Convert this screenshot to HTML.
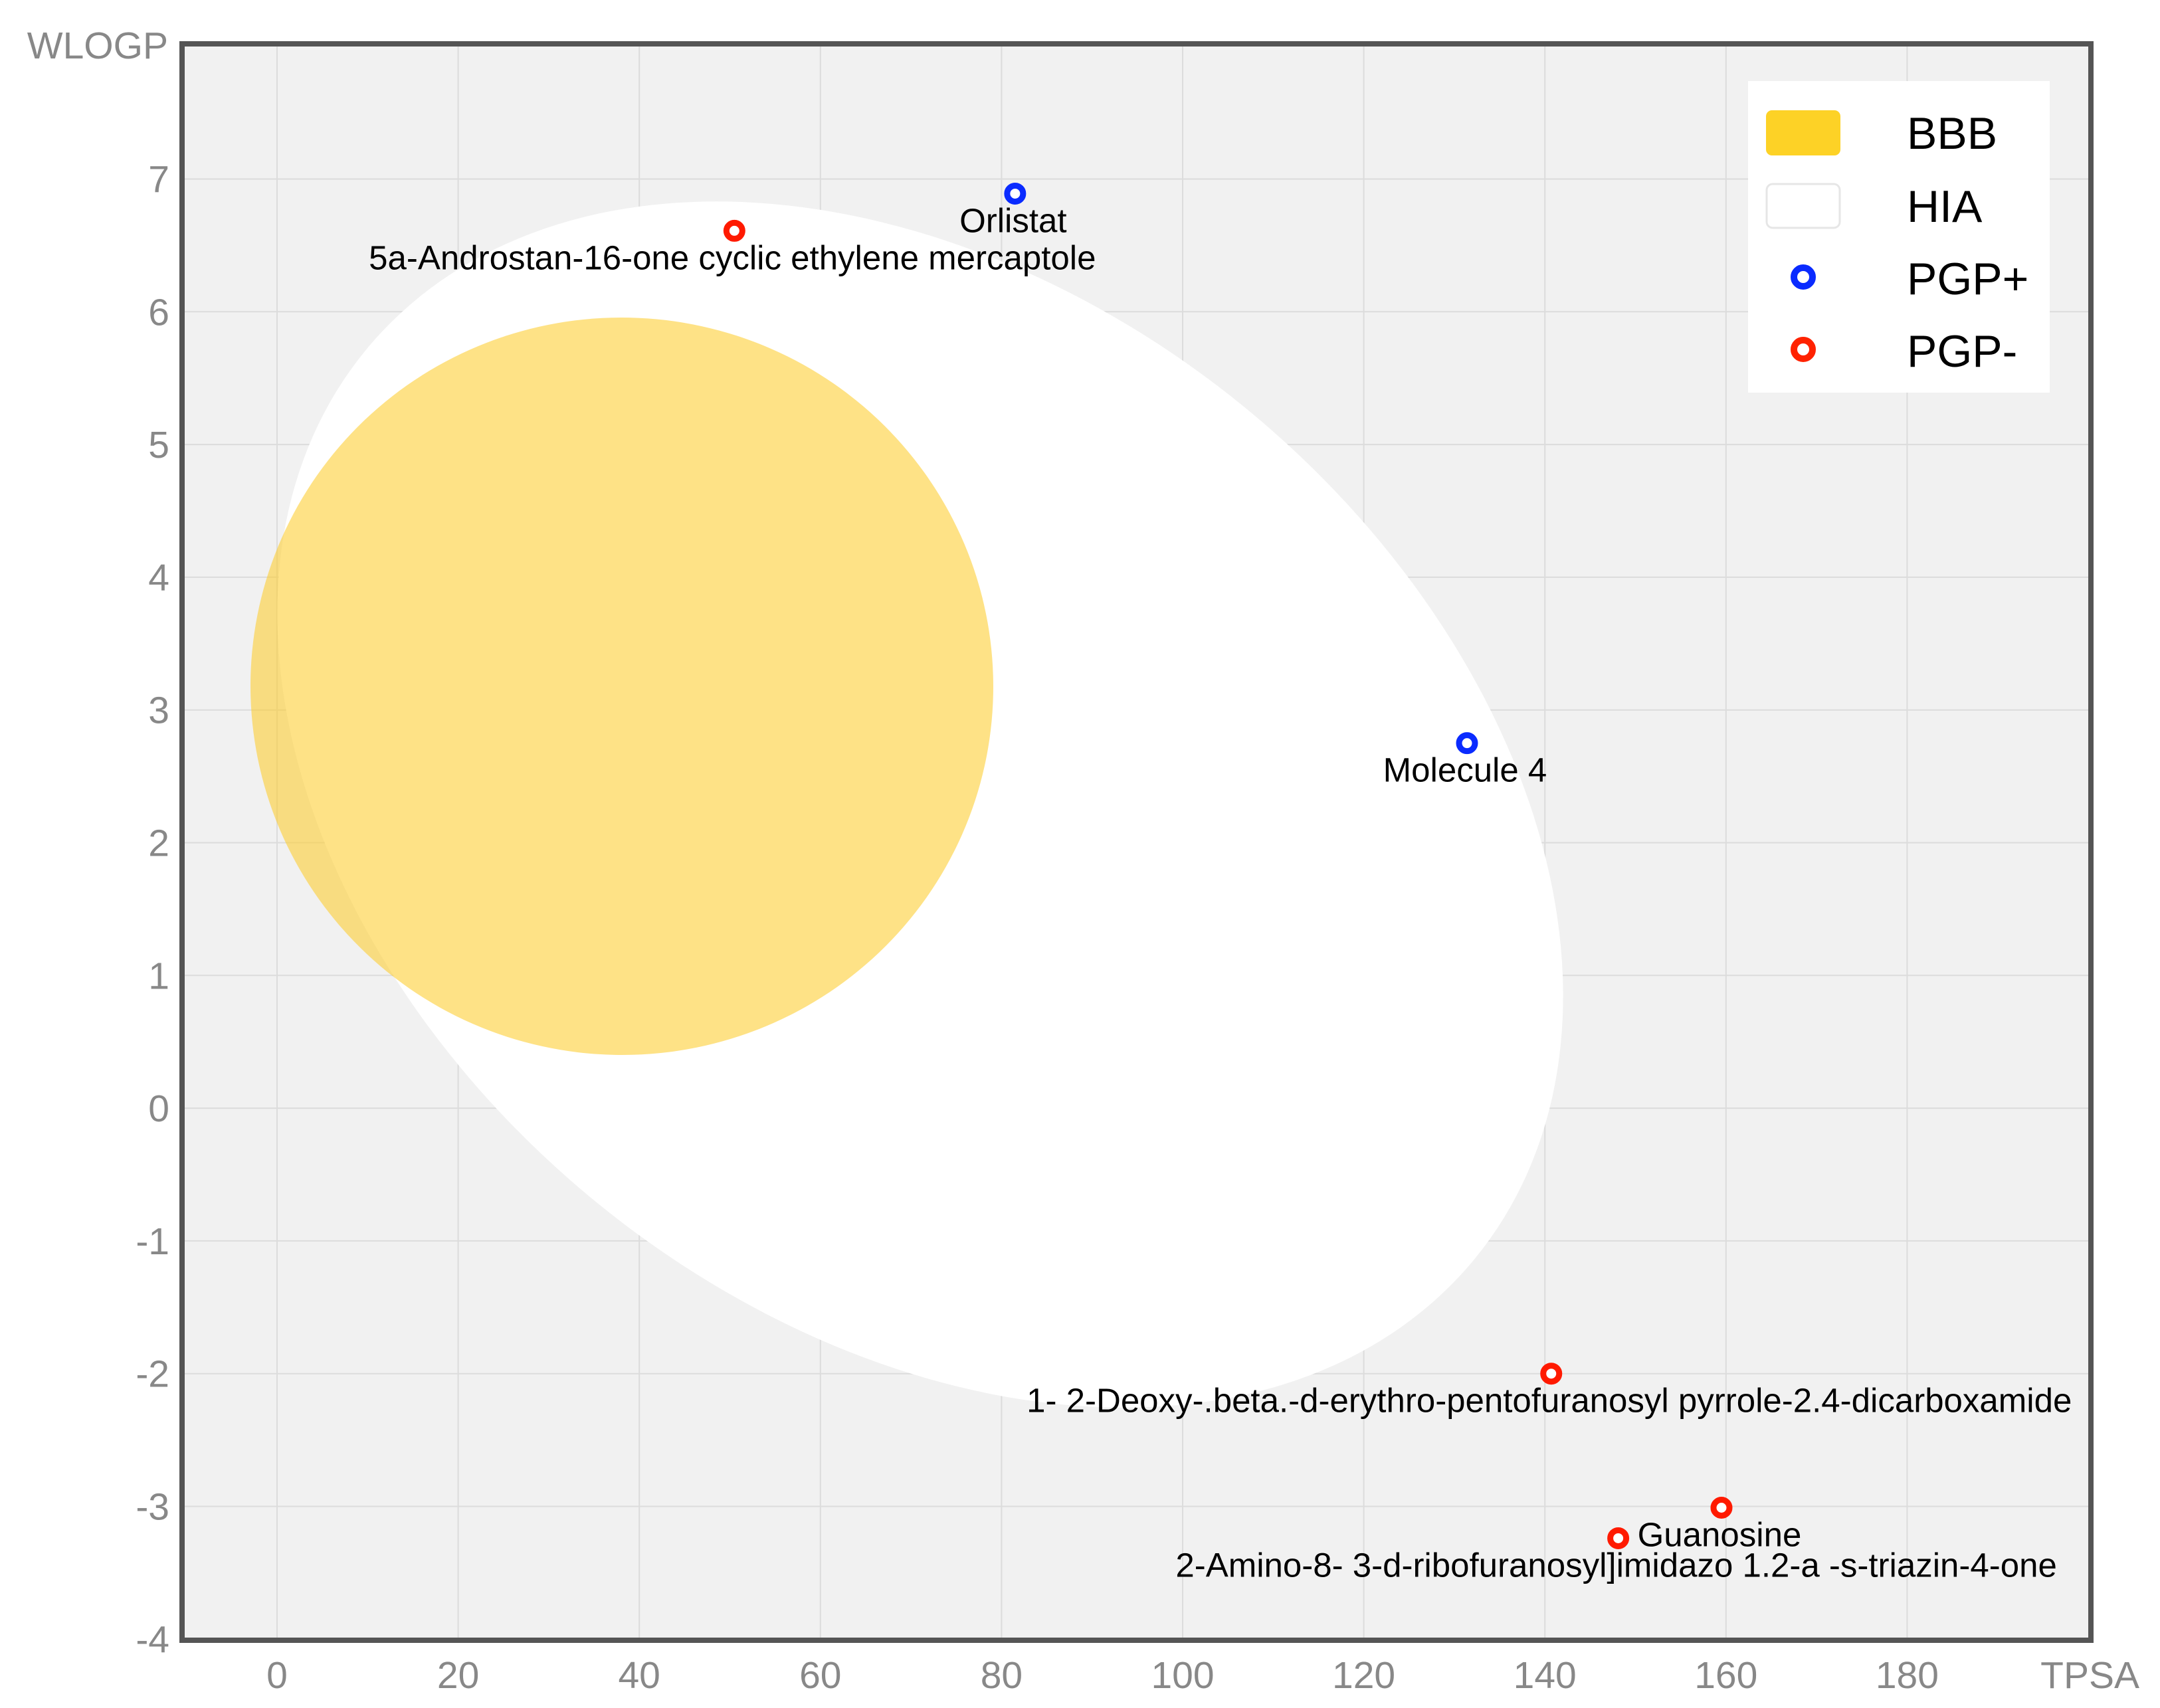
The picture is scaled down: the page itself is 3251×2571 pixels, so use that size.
<!DOCTYPE html>
<html><head><meta charset="utf-8">
<style>
html,body{margin:0;padding:0;background:#fff;}
svg{display:block;}
text{font-family:"Liberation Sans",Arial,sans-serif;}
</style></head>
<body>
<svg id="chart" width="3251" height="2571" viewBox="0 0 3251 2571" xmlns="http://www.w3.org/2000/svg">
<rect x="276" y="62" width="2875" height="2411" fill="#f1f1f1"/>
<g id="grid"></g>
<ellipse id="hia" cx="1385" cy="1211" rx="1079" ry="772" transform="rotate(39.3 1385 1211)" fill="#ffffff"/>
<ellipse id="bbb" cx="936" cy="1033" rx="559" ry="555" transform="rotate(4 936 1033)" fill="rgba(253,204,40,0.56)"/>
<g id="labels"></g>
<g id="points"></g>
<rect x="274" y="66" width="2873" height="2403" fill="none" stroke="#555" stroke-width="8"/>
<g id="yticks"></g>
<g id="xticks"></g>
<text x="253" y="88" text-anchor="end" font-size="57" fill="#888">WLOGP</text>
<text x="3220" y="2541" text-anchor="end" font-size="57" fill="#888">TPSA</text>
<g>
  <rect x="2631" y="122" width="454" height="469" fill="#fff"/>
  <rect x="2658" y="166" width="112" height="68" rx="9" fill="#fdd226"/>
  <text x="2870" y="224" font-size="68" fill="#000">BBB</text>
  <rect x="2659" y="277" width="110" height="66" rx="9" fill="#fff" stroke="#e6e6e6" stroke-width="3"/>
  <text x="2870" y="334" font-size="68" fill="#000">HIA</text>
  <circle cx="2714" cy="417" r="14" fill="#fff" stroke="#0a2bff" stroke-width="10"/>
  <text x="2870" y="443" font-size="68" fill="#000">PGP+</text>
  <circle cx="2714" cy="526" r="14" fill="#fff" stroke="#ff2200" stroke-width="10"/>
  <text x="2870" y="552" font-size="68" fill="#000">PGP-</text>
</g>
</svg>
<script>
const names = ["Orlistat","5a-Androstan-16-one cyclic ethylene mercaptole","Molecule 4","1- 2-Deoxy-.beta.-d-erythro-pentofuranosyl pyrrole-2.4-dicarboxamide","Guanosine","2-Amino-8- 3-d-ribofuranosyl]imidazo 1.2-a -s-triazin-4-one"];
const tpsa = [81.5, 50.5, 131.4, 140.7, 159.5, 148.1];
const wlogp = [6.89, 6.61, 2.75, -2.0, -3.01, -3.24];
const pgp = ["+","-","+","-","-","-"];
const xTicks = [0,20,40,60,80,100,120,140,160,180];
const yTicks = [7,6,5,4,3,2,1,0,-1,-2,-3,-4];

const NS = "http://www.w3.org/2000/svg";
function xs(v){ return 417 + v * 13.63; }
function ys(v){ return 269.5 + (7 - v) * 199.8; }
function mk(tag, attrs, parent){
  const e = document.createElementNS(NS, tag);
  for (const k in attrs) e.setAttribute(k, attrs[k]);
  parent.appendChild(e); return e;
}
const grid = document.getElementById('grid');
const yt = document.getElementById('yticks');
const xt = document.getElementById('xticks');
xTicks.forEach(v => {
  const l = mk('line', {x1:xs(v), x2:xs(v), y1:66, y2:2469, stroke:'#dcdcdc', 'stroke-width':2}, grid);
  
  
  const t = mk('text', {x:xs(v), y:2541, 'text-anchor':'middle', 'font-size':57, fill:'#888'}, xt);
  t.textContent = v;
  
  
});
yTicks.forEach(v => {
  const l = mk('line', {x1:276, x2:3151, y1:ys(v), y2:ys(v), stroke:'#dcdcdc', 'stroke-width':2}, grid);
  
  
  const t = mk('text', {x:255, y:ys(v)+20, 'text-anchor':'end', 'font-size':57, fill:'#888'}, yt);
  t.textContent = v;
  
  
});
const pts = document.getElementById('points');
const labs = document.getElementById('labels');
names.forEach((n, i) => {
  const c = mk('circle', {cx:xs(tpsa[i]), cy:ys(wlogp[i]), r:12, fill:'#fff', stroke: pgp[i]==='+' ? '#0a2bff' : '#ff1a00', 'stroke-width':9}, pts);
  
  
  const t = mk('text', {x:xs(tpsa[i]) - 3, y:ys(wlogp[i]) + 58, 'text-anchor':'middle', 'font-size':51, fill:'#000'}, labs);
  t.textContent = n;
  
  
});
</script>
</body></html>
